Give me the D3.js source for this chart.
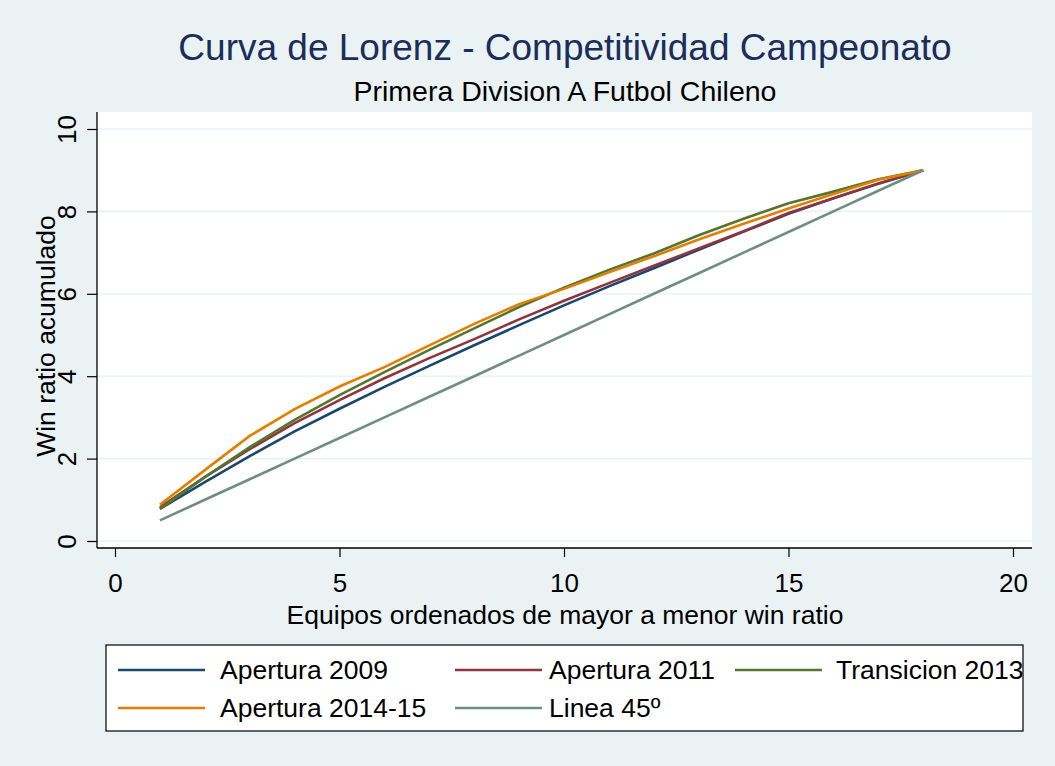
<!DOCTYPE html>
<html lang="es">
<head>
<meta charset="UTF-8">
<title>Curva de Lorenz - Competitividad Campeonato</title>
<script src="https://d3js.org/d3.v7.min.js"></script>
<style>
    body { margin: 0; background: #eaf2f3; }
    svg text { font-family: "Liberation Sans", Arial, sans-serif; }
    .grid line { stroke: #eaf2f3; stroke-width: 1.6px; }
    .serie { fill: none; stroke-width: 2.6px; stroke-linejoin: miter; }
</style>
</head>
<body>
<script>
    // equipos ordenados (1..18)
    const equipos = d3.range(1, 19);

    // win ratio acumulado por torneo
    const apertura2009 = [0.78, 1.43, 2.06, 2.66, 3.21, 3.74, 4.25, 4.75, 5.24, 5.72, 6.18, 6.62, 7.07, 7.51, 7.94, 8.32, 8.67, 9.0];
    const apertura2011 = [0.82, 1.55, 2.23, 2.86, 3.42, 3.95, 4.44, 4.90, 5.38, 5.83, 6.26, 6.68, 7.10, 7.52, 7.96, 8.32, 8.68, 9.0];
    const transicion2013 = [0.78, 1.55, 2.28, 2.94, 3.54, 4.10, 4.64, 5.16, 5.68, 6.15, 6.58, 6.98, 7.42, 7.82, 8.20, 8.48, 8.78, 9.0];
    const apertura2014 = [0.88, 1.72, 2.55, 3.20, 3.75, 4.22, 4.75, 5.27, 5.75, 6.12, 6.52, 6.91, 7.32, 7.70, 8.07, 8.42, 8.77, 9.0];
    const linea45 = equipos.map(e => e * 0.5);

    const xTicks = [0, 5, 10, 15, 20];
    const yTicks = [0, 2, 4, 6, 8, 10];

    const series = [
        {name: "Apertura 2009", values: apertura2009, color: "#1a476f"},
        {name: "Apertura 2011", values: apertura2011, color: "#90353b"},
        {name: "Transicion 2013", values: transicion2013, color: "#55752f"},
        {name: "Apertura 2014-15", values: apertura2014, color: "#e37e00"},
        {name: "Linea 45º", values: linea45, color: "#6e8e84"}
    ];

    const W = 1055, H = 766;
    const plot = {left: 97, right: 1032, top: 112, bottom: 548};

    const svg = d3.select("body").append("svg")
        .attr("width", W)
        .attr("height", H);

    svg.append("rect").attr("width", W).attr("height", H).attr("fill", "#eaf2f3");

    const x = d3.scaleLinear().domain([0, 20]).range([115, 1013]);
    const y = d3.scaleLinear().domain([0, 10]).range([541, 129]);

    // plot region
    svg.append("rect")
        .attr("x", plot.left).attr("y", plot.top)
        .attr("width", plot.right - plot.left)
        .attr("height", plot.bottom - plot.top)
        .attr("fill", "#fff");

    // grid
    svg.append("g").attr("class", "grid")
        .selectAll("line").data(yTicks).enter().append("line")
        .attr("x1", plot.left).attr("x2", plot.right)
        .attr("y1", d => y(d)).attr("y2", d => y(d));

    // series
    const line = d3.line()
        .x((d, i) => x(equipos[i]))
        .y(d => y(d));

    svg.append("g").selectAll("path").data(series).enter().append("path")
        .attr("class", "serie")
        .attr("stroke", d => d.color)
        .attr("d", d => line(d.values));

    // ejes
    const yAxis = svg.append("g")
        .attr("transform", "translate(" + plot.left + ",0)")
        .call(d3.axisLeft(y).tickValues(yTicks).tickSize(10).tickSizeOuter(0).tickFormat(d3.format("d")));
    yAxis.select(".domain").remove();
    yAxis.selectAll(".tick line").attr("stroke", "#000").attr("stroke-width", 1.2);
    yAxis.selectAll(".tick text")
        .attr("x", null).attr("dy", null)
        .attr("transform", "translate(-30,0) rotate(-90)")
        .attr("text-anchor", "middle")
        .attr("dy", "0.35em")
        .style("font-size", "26px")
        .attr("fill", "#000");

    const xAxis = svg.append("g")
        .attr("transform", "translate(0," + plot.bottom + ")")
        .call(d3.axisBottom(x).tickValues(xTicks).tickSize(9).tickSizeOuter(0));
    xAxis.select(".domain").remove();
    xAxis.selectAll(".tick line").attr("stroke", "#000").attr("stroke-width", 1.2);
    xAxis.selectAll(".tick text")
        .attr("y", 35).attr("dy", "0.35em")
        .style("font-size", "26px")
        .attr("fill", "#000");

    svg.append("line")
        .attr("x1", plot.left).attr("x2", plot.left)
        .attr("y1", plot.top).attr("y2", plot.bottom)
        .attr("stroke", "#000").attr("stroke-width", 1.3);
    svg.append("line")
        .attr("x1", plot.left).attr("x2", plot.right)
        .attr("y1", plot.bottom).attr("y2", plot.bottom)
        .attr("stroke", "#000").attr("stroke-width", 1.3);

    // titulos
    svg.append("text")
        .attr("x", 565).attr("y", 47).attr("dy", "0.35em")
        .attr("text-anchor", "middle")
        .style("font-size", "37px").attr("fill", "#1c2d5c")
        .text("Curva de Lorenz - Competitividad Campeonato");
    svg.append("text")
        .attr("x", 565).attr("y", 91).attr("dy", "0.35em")
        .attr("text-anchor", "middle")
        .style("font-size", "28.5px").attr("fill", "#000")
        .text("Primera Division A Futbol Chileno");

    svg.append("text")
        .attr("x", 565).attr("y", 615).attr("dy", "0.35em")
        .attr("text-anchor", "middle")
        .style("font-size", "26.5px").attr("fill", "#000")
        .text("Equipos ordenados de mayor a menor win ratio");
    svg.append("text")
        .attr("transform", "translate(46,336) rotate(-90)")
        .attr("dy", "0.35em")
        .attr("text-anchor", "middle")
        .style("font-size", "26.5px").attr("fill", "#000")
        .text("Win ratio acumulado");

    // leyenda
    const legend = svg.append("g");
    legend.append("rect")
        .attr("x", 106).attr("y", 645).attr("width", 917).attr("height", 86)
        .attr("fill", "#fff").attr("stroke", "#000").attr("stroke-width", 1.2);

    const colX = [118, 455, 735];
    const textX = [220, 549, 836];
    const rowY = [670, 708];

    const item = legend.selectAll("g.item").data(series).enter().append("g")
        .attr("class", "item")
        .attr("transform", (d, i) => "translate(0," + rowY[Math.floor(i / 3)] + ")");
    item.append("line")
        .attr("x1", (d, i) => colX[i % 3]).attr("x2", (d, i) => colX[i % 3] + 87)
        .attr("stroke", d => d.color).attr("stroke-width", 2.6);
    item.append("text")
        .attr("x", (d, i) => textX[i % 3]).attr("dy", "0.35em")
        .style("font-size", "26.5px").attr("fill", "#000")
        .text(d => d.name);
</script>
</body>
</html>
